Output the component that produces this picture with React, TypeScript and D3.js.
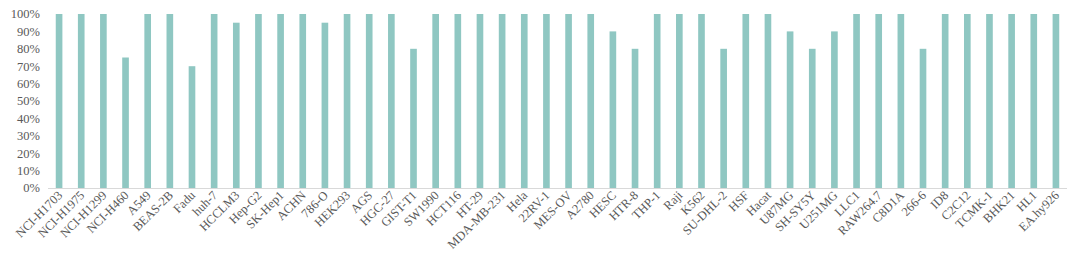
import React from "react";
import * as d3 from "d3";

const categories = ["NCI-H1703","NCI-H1975","NCI-H1299","NCI-H460","A549","BEAS-2B","Fadu","huh-7","HCCLM3","Hep-G2","SK-Hep1","ACHN","786-O","HEK293","AGS","HGC-27","GIST-T1","SW1990","HCT116","HT-29","MDA-MB-231","Hela","22RV-1","MES-OV","A2780","HESC","HTR-8","THP-1","Raji","K562","SU-DHL-2","HSF","Hacat","U87MG","SH-SY5Y","U251MG","LLC1","RAW264.7","C8D1A","266-6","ID8","C2C12","TCMK-1","BHK21","HL1","EA.hy926"];
const values = [100,100,100,75,100,100,70,100,95,100,100,100,95,100,100,100,80,100,100,100,100,100,100,100,100,90,80,100,100,100,80,100,100,90,80,90,100,100,100,80,100,100,100,100,100,100];
const yTicks = [0,10,20,30,40,50,60,70,80,90,100];

export default function App() {
  const W = 1080, H = 267;
  const left = 48, right = 1067, top = 14, bottom = 188;
  const x = d3.scaleBand<string>().domain(categories).range([left, right]).paddingInner(0.7).paddingOuter(0.35);
  const y = d3.scaleLinear().domain([0, 100]).range([bottom, top]);
  const font = "'Liberation Serif', 'Times New Roman', serif";
  return (
    <svg width={W} height={H} style={{ position: "absolute", left: 0, top: 0, background: "#fff" }}>
      {categories.map((c, i) => (
        <rect key={c} x={x(c)} y={y(values[i])} width={x.bandwidth()} height={y(0) - y(values[i])} fill="#8fc7c2" />
      ))}
      <line x1={left} x2={right} y1={bottom + 0.5} y2={bottom + 0.5} stroke="#d9d9d9" strokeWidth={1} />
      {yTicks.map(t => (
        <text key={t} x={40} y={y(t)} dy="0.35em" textAnchor="end" fontFamily={font} fontSize={12.5} fill="#595959">{t}%</text>
      ))}
      {categories.map(c => {
        const cx = (x(c) as number) + x.bandwidth() / 2 + 4;
        const cy = bottom + 8;
        return (
          <text key={c} x={cx} y={cy} textAnchor="end" transform={`rotate(-45 ${cx} ${cy})`} fontFamily={font} fontSize={12.5} fill="#595959">{c}</text>
        );
      })}
    </svg>
  );
}
